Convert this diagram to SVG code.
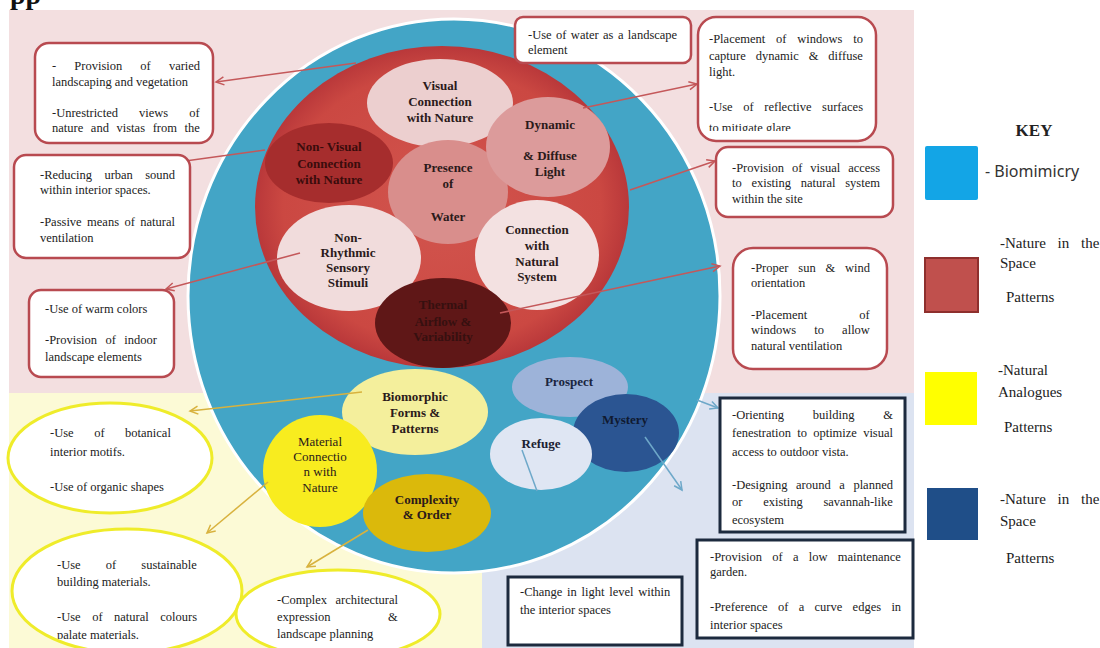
<svg xmlns="http://www.w3.org/2000/svg" width="1100" height="648" viewBox="0 0 1100 648">
<style>
.bt{font-family:"Liberation Serif","Times New Roman",serif;font-size:12.5px;fill:#222}
.nl{font-family:"Liberation Serif","Times New Roman",serif;font-weight:bold;font-size:13px;text-anchor:middle;fill:#2b1a1a}
.rbox{fill:#fff;stroke:#b84a50;stroke-width:2.5}
.ybox{fill:#fff;stroke:#efec2a;stroke-width:3}
.kbox{fill:#fff;stroke:#1c2a3e;stroke-width:3}
.ra{stroke:#c4585a;stroke-width:1.5;fill:none;marker-end:url(#mr)}
.ya{stroke:#d8b23e;stroke-width:1.5;fill:none;marker-end:url(#my)}
.ba{stroke:#6ea8c9;stroke-width:1.5;fill:none}
.kt{font-family:"Liberation Serif","Times New Roman",serif;font-size:15px;fill:#222}
</style>
<defs>
<marker id="mr" markerUnits="userSpaceOnUse" markerWidth="12" markerHeight="12" refX="9" refY="5" orient="auto"><path d="M1,1 L9,5 L1,9" fill="none" stroke="#c4585a" stroke-width="1.5"/></marker>
<marker id="my" markerUnits="userSpaceOnUse" markerWidth="12" markerHeight="12" refX="9" refY="5" orient="auto"><path d="M1,1 L9,5 L1,9" fill="none" stroke="#d8b23e" stroke-width="1.5"/></marker>
<marker id="mb" markerUnits="userSpaceOnUse" markerWidth="12" markerHeight="12" refX="9" refY="5" orient="auto"><path d="M1,1 L9,5 L1,9" fill="none" stroke="#6ea8c9" stroke-width="1.5"/></marker>
<radialGradient id="rg" cx="50%" cy="50%" r="50%"><stop offset="0" stop-color="#d2554e"/><stop offset="0.85" stop-color="#cb4842"/><stop offset="1" stop-color="#b9383a"/></radialGradient>
<clipPath id="clipE"><rect x="698" y="17" width="178" height="114"/></clipPath>
<clipPath id="clipI"><rect x="0" y="520" width="260" height="119"/></clipPath>
</defs>

<!-- backgrounds -->
<rect x="0" y="0" width="1100" height="648" fill="#fff"/>
<text x="10" y="4" font-family="Liberation Serif,serif" font-weight="bold" font-size="28" fill="#111">pp</text>
<rect x="9" y="10" width="905" height="384" fill="#f3dfe0"/>
<rect x="9" y="393" width="474" height="255" fill="#fcfad6"/>
<rect x="482" y="393" width="432" height="255" fill="#dce3f1"/>

<g id="outer-circle"><ellipse cx="454" cy="296" rx="266" ry="277" fill="#43a5c6" stroke="#fff" stroke-width="3"/></g>
<g id="red-circle"><ellipse cx="442" cy="207" rx="187" ry="161" fill="url(#rg)"/></g>

<g id="n-visual"><ellipse cx="440" cy="103" rx="73" ry="44" fill="#eccfcf"/>
<text class="nl"><tspan x="440" y="90">Visual</tspan><tspan x="440" y="106">Connection</tspan><tspan x="440" y="122">with Nature</tspan></text></g>
<g id="n-nonvisual"><ellipse cx="329" cy="163" rx="64" ry="40" fill="#a62d2d"/>
<text class="nl" style="fill:#3a0c0c"><tspan x="329" y="151">Non- Visual</tspan><tspan x="329" y="168">Connection</tspan><tspan x="329" y="184">with Nature</tspan></text></g>
<g id="n-water"><ellipse cx="448" cy="192" rx="60" ry="52" fill="#d98e8c"/>
<text class="nl"><tspan x="448" y="172">Presence</tspan><tspan x="448" y="188">of</tspan><tspan x="448" y="221">Water</tspan></text></g>
<g id="n-dynamic"><ellipse cx="548" cy="147" rx="62" ry="50" fill="#dc9b9b"/>
<text class="nl"><tspan x="550" y="129">Dynamic</tspan><tspan x="550" y="160">&amp; Diffuse</tspan><tspan x="550" y="176">Light</tspan></text></g>
<g id="n-nonrhythmic"><ellipse cx="349" cy="258" rx="72" ry="53" fill="#f1dcdc"/>
<text class="nl"><tspan x="348" y="242">Non-</tspan><tspan x="348" y="257">Rhythmic</tspan><tspan x="348" y="272">Sensory</tspan><tspan x="348" y="287">Stimuli</tspan></text></g>
<g id="n-natsystem"><ellipse cx="537" cy="255" rx="62" ry="55" fill="#f3e1e1"/>
<text class="nl"><tspan x="537" y="234">Connection</tspan><tspan x="537" y="250">with</tspan><tspan x="537" y="266">Natural</tspan><tspan x="537" y="281">System</tspan></text></g>
<g id="n-thermal"><ellipse cx="443" cy="323" rx="68" ry="45" fill="#5f1717"/>
<text class="nl" style="fill:#361010"><tspan x="443" y="309">Thermal</tspan><tspan x="443" y="326">Airflow &amp;</tspan><tspan x="443" y="341">Variability</tspan></text></g>

<g id="n-biomorphic"><ellipse cx="415" cy="412" rx="73" ry="43" fill="#f4ef9c"/>
<text class="nl"><tspan x="415" y="401">Biomorphic</tspan><tspan x="415" y="417">Forms &amp;</tspan><tspan x="415" y="433">Patterns</tspan></text></g>
<g id="n-material"><ellipse cx="320" cy="471" rx="57" ry="56" fill="#f8ec1f"/>
<text class="nl" style="font-weight:normal"><tspan x="320" y="446">Material</tspan><tspan x="320" y="461">Connectio</tspan><tspan x="320" y="476">n with</tspan><tspan x="320" y="492">Nature</tspan></text></g>
<g id="n-complexity"><ellipse cx="427" cy="513" rx="64" ry="39" fill="#dbb90b"/>
<text class="nl"><tspan x="427" y="504">Complexity</tspan><tspan x="427" y="519">&amp; Order</tspan></text></g>

<g id="n-prospect"><ellipse cx="570" cy="387" rx="58" ry="30" fill="#9db3d9"/>
<text class="nl" style="fill:#1a2540"><tspan x="569" y="386">Prospect</tspan></text></g>
<g id="n-mystery"><ellipse cx="626" cy="433" rx="53" ry="39" fill="#2b5592"/>
<text class="nl" style="fill:#101a30"><tspan x="625" y="424">Mystery</tspan></text></g>
<g id="n-refuge"><ellipse cx="541" cy="454" rx="51" ry="36" fill="#dfe6f3"/>
<text class="nl" style="fill:#1a2030"><tspan x="541" y="448">Refuge</tspan></text></g>

<g id="connectors">
<line class="ra" x1="356" y1="63" x2="216" y2="82"/>
<line class="ra" x1="265" y1="150" x2="178" y2="162"/>
<line class="ra" x1="300" y1="253" x2="166" y2="289"/>
<line class="ra" x1="583" y1="108" x2="697" y2="84"/>
<line class="ra" x1="630" y1="190" x2="715" y2="161"/>
<line class="ra" x1="500" y1="313" x2="720" y2="266"/>
<line class="ya" x1="362" y1="392" x2="190" y2="411"/>
<line class="ya" x1="268" y1="482" x2="207" y2="533"/>
<line class="ya" x1="368" y1="530" x2="307" y2="567"/>
<line class="ba" x1="522" y1="450" x2="537" y2="491"/>
<line class="ba" x1="645" y1="437" x2="682" y2="490" marker-end="url(#mb)"/>
<line class="ba" x1="697" y1="400" x2="718" y2="408" marker-end="url(#mb)"/>
</g>

<g id="box-a"><rect class="rbox" x="35" y="43" width="178" height="100" rx="14"/>
<text class="bt"><tspan x="52" y="70" style="word-spacing:15px">- Provision of varied</tspan><tspan x="52" y="86">landscaping and vegetation</tspan><tspan x="52" y="117" style="word-spacing:18px">-Unrestricted views of</tspan><tspan x="52" y="132" style="word-spacing:4.5px">nature and vistas from the</tspan></text></g>
<g id="box-b"><rect class="rbox" x="14" y="155" width="176" height="103" rx="12"/>
<text class="bt"><tspan x="40" y="179" style="word-spacing:9.2px">-Reducing urban sound</tspan><tspan x="40" y="194">within interior spaces.</tspan><tspan x="40" y="226" style="word-spacing:2.3px">-Passive means of natural</tspan><tspan x="40" y="242">ventilation</tspan></text></g>
<g id="box-c"><rect class="rbox" x="29" y="290" width="145" height="87" rx="12"/>
<text class="bt"><tspan x="45" y="313">-Use of warm colors</tspan><tspan x="45" y="344" style="word-spacing:5.3px">-Provision of indoor</tspan><tspan x="45" y="361">landscape elements</tspan></text></g>
<g id="box-d"><rect class="rbox" x="515" y="17" width="176" height="46" rx="8"/>
<text class="bt"><tspan x="528" y="39" style="word-spacing:1.3px">-Use of water as a landscape</tspan><tspan x="528" y="54">element</tspan></text></g>
<g id="box-e"><rect class="rbox" x="698" y="17" width="178" height="124" rx="18"/>
<text class="bt" clip-path="url(#clipE)"><tspan x="709" y="43" style="word-spacing:7.7px">-Placement of windows to</tspan><tspan x="709" y="60" style="word-spacing:6.8px">capture dynamic &amp; diffuse</tspan><tspan x="709" y="76">light.</tspan><tspan x="709" y="111" style="word-spacing:7.5px">-Use of reflective surfaces</tspan><tspan x="709" y="132">to mitigate glare</tspan></text></g>
<g id="box-f"><rect class="rbox" x="716" y="147" width="177" height="70" rx="12"/>
<text class="bt"><tspan x="732" y="172" style="word-spacing:4.8px">-Provision of visual access</tspan><tspan x="732" y="187" style="word-spacing:6.6px">to existing natural system</tspan><tspan x="732" y="203">within the site</tspan></text></g>
<g id="box-g"><rect class="rbox" x="733" y="248" width="154" height="121" rx="20"/>
<text class="bt"><tspan x="751" y="272" style="word-spacing:6.7px">-Proper sun &amp; wind</tspan><tspan x="751" y="287">orientation</tspan><tspan x="751" y="319" style="word-spacing:49px">-Placement of</tspan><tspan x="751" y="334" style="word-spacing:15px">windows to allow</tspan><tspan x="751" y="350">natural ventilation</tspan></text></g>

<g id="ell-h"><ellipse class="ybox" cx="110" cy="458" rx="102" ry="55"/>
<text class="bt"><tspan x="50" y="437" style="word-spacing:17.4px">-Use of botanical</tspan><tspan x="50" y="456">interior motifs.</tspan><tspan x="50" y="491">-Use of organic shapes</tspan></text></g>
<g id="ell-i"><ellipse class="ybox" cx="127" cy="591" rx="115" ry="62"/>
<text class="bt" clip-path="url(#clipI)"><tspan x="57" y="569" style="word-spacing:22px">-Use of sustainable</tspan><tspan x="57" y="586">building materials.</tspan><tspan x="57" y="621" style="word-spacing:8.4px">-Use of natural colours</tspan><tspan x="57" y="639">palate materials.</tspan></text></g>
<g id="ell-j"><ellipse class="ybox" cx="338" cy="614" rx="102" ry="44"/>
<text class="bt"><tspan x="277" y="604" style="word-spacing:5.4px">-Complex architectural</tspan><tspan x="277" y="621" style="word-spacing:54.5px">expression &amp;</tspan><tspan x="277" y="638">landscape planning</tspan></text></g>

<g id="box-k"><rect class="kbox" x="720" y="398" width="185" height="134"/>
<text class="bt"><tspan x="732" y="419" style="word-spacing:25.6px">-Orienting building &amp;</tspan><tspan x="732" y="437" style="word-spacing:3.1px">fenestration to optimize visual</tspan><tspan x="732" y="456">access to outdoor vista.</tspan><tspan x="732" y="489" style="word-spacing:5.4px">-Designing around a planned</tspan><tspan x="732" y="506" style="word-spacing:17.6px">or existing savannah-like</tspan><tspan x="732" y="524">ecosystem</tspan></text></g>
<g id="box-l"><rect class="kbox" x="697" y="540" width="216" height="98"/>
<text class="bt"><tspan x="710" y="561" style="word-spacing:7.1px">-Provision of a low maintenance</tspan><tspan x="710" y="576">garden.</tspan><tspan x="710" y="611" style="word-spacing:7.2px">-Preference of a curve edges in</tspan><tspan x="710" y="629">interior spaces</tspan></text></g>
<g id="box-m"><rect class="kbox" x="508" y="577" width="174" height="68"/>
<text class="bt"><tspan x="520" y="596" style="word-spacing:1.6px">-Change in light level within</tspan><tspan x="520" y="614">the interior spaces</tspan></text></g>

<g id="key">
<text x="1034" y="136" text-anchor="middle" font-family="Liberation Serif,serif" font-weight="bold" font-size="17" fill="#222">KEY</text>
<rect x="925" y="146" width="53" height="54" rx="2" fill="#13a5e6"/>
<text x="985" y="177" font-family="Noto Sans,Open Sans,sans-serif" font-size="16" fill="#333">- Biomimicry</text>
<rect x="925" y="258" width="53" height="54" fill="#c0504d" stroke="#8e2f2d" stroke-width="2"/>
<text class="kt"><tspan x="1000" y="248" style="word-spacing:8px">-Nature in the</tspan><tspan x="1000" y="268">Space</tspan><tspan x="1006" y="302">Patterns</tspan></text>
<rect x="925" y="372" width="52" height="53" fill="#ffff00"/>
<text class="kt"><tspan x="998" y="375">-Natural</tspan><tspan x="998" y="397">Analogues</tspan><tspan x="1004" y="432">Patterns</tspan></text>
<rect x="927" y="488" width="51" height="52" fill="#1f4e88"/>
<text class="kt"><tspan x="1000" y="504" style="word-spacing:8px">-Nature in the</tspan><tspan x="1000" y="526">Space</tspan><tspan x="1006" y="563">Patterns</tspan></text>
</g>
</svg>
